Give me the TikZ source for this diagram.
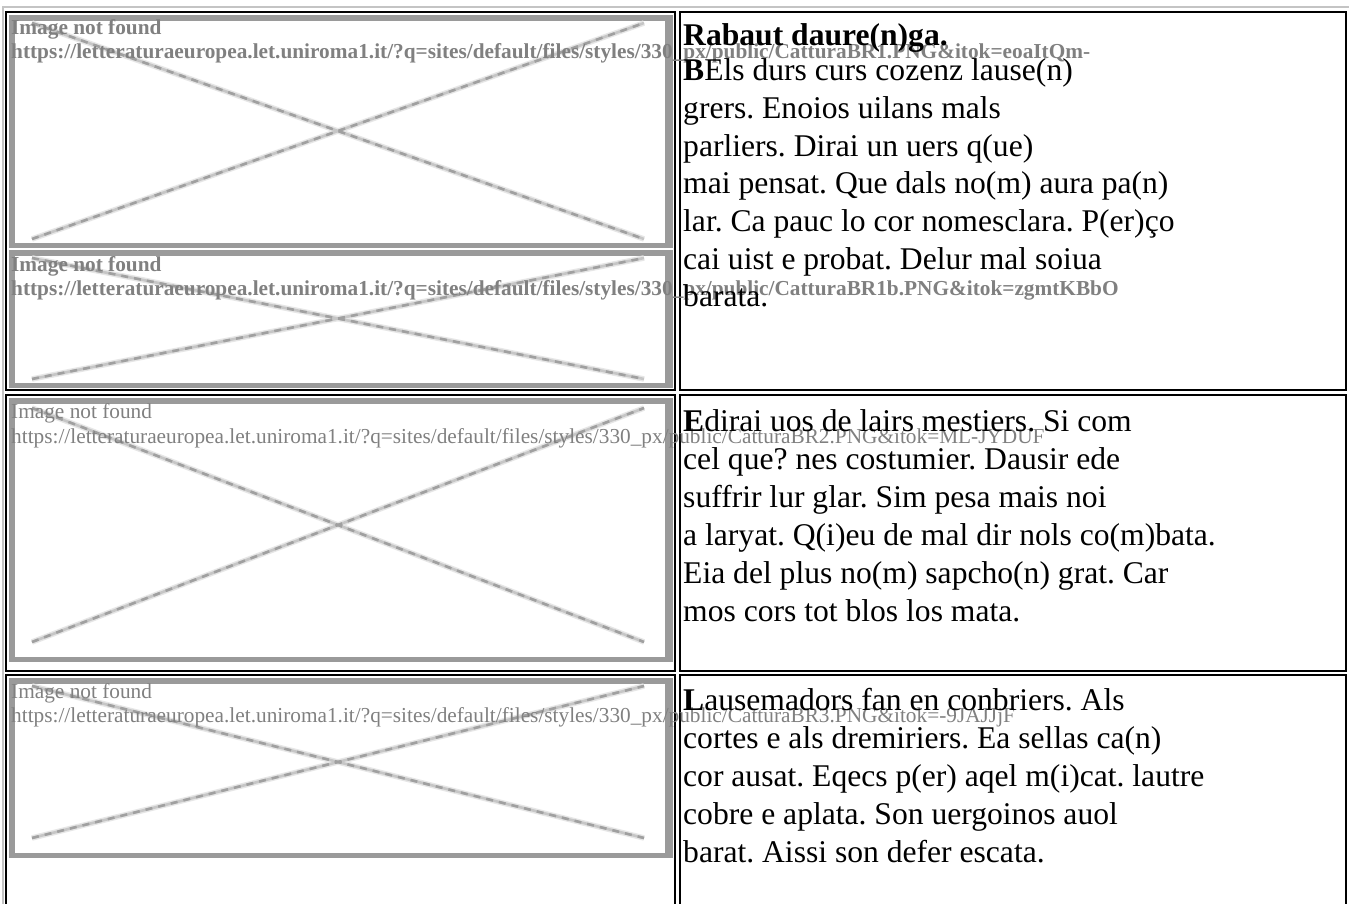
\documentclass[tikz,border=0pt]{standalone}
\usepackage{fontspec}
\setmainfont{Liberation Serif}
\frenchspacing
\definecolor{framegray}{HTML}{9A9A9A}
\definecolor{altgray}{HTML}{808080}
\definecolor{xlight}{HTML}{E6E6E6}
\definecolor{xmid}{HTML}{C6C6C6}
\definecolor{xdark}{HTML}{A0A0A0}
\definecolor{outergray}{HTML}{C4C4C4}
\newcommand\versefont{\fontsize{31.6}{37.6}\selectfont}
\newcommand\altfont{\fontsize{21.3}{24}\selectfont}
% #1 top, #2 bottom, #3 top inset of X, #4 bottom inset of X
\newcommand\brokenimg[4]{%
  \fill[framegray] (9,#1) rectangle (673,#2);
  \fill[white] (15,{#1+6}) rectangle (665,{#2-5});
  \draw[xhalo] (32,{#2-#4}) -- (644,{#1+#3});
  \draw[xhalo] (32,{#1+#3}) -- (644,{#2-#4});
  \draw[xmidline] (32,{#2-#4}) -- (644,{#1+#3});
  \draw[xmidline] (32,{#1+#3}) -- (644,{#2-#4});
  \draw[xcore] (32,{#2-#4}) -- (644,{#1+#3});
  \draw[xcore] (32,{#1+#3}) -- (644,{#2-#4});
}
\tikzset{
  cell/.style={draw=black, line width=2pt},
  xhalo/.style={draw=xlight, line width=5.5pt},
  xmidline/.style={draw=xmid, line width=2.6pt},
  xcore/.style={draw=xdark, line width=2.6pt, dash pattern=on 7pt off 6pt},
  alt/.style={font=\altfont, text=altgray, anchor=base west, inner sep=0pt},
  verse/.style={font=\versefont, text=black, anchor=base west, inner sep=0pt},
}
\begin{document}
\begin{tikzpicture}[x=1pt,y=-1pt]
\useasboundingbox (0,0) rectangle (1349,904);
\fill[white] (0,0) rectangle (1349,904);
% outer table border
\draw[draw=outergray, line width=2pt] (2.5,7.5) rectangle (1360,930);
% cells
\draw[cell] (5.5,12.5) rectangle (674.5,390);
\draw[cell] (679.5,12.5) rectangle (1346,390);
\draw[cell] (5.5,395) rectangle (674.5,670.5);
\draw[cell] (679.5,395) rectangle (1346,670.5);
\draw[cell] (5.5,674.5) rectangle (674.5,930);
\draw[cell] (679.5,674.5) rectangle (1346,930);
% broken images
\brokenimg{15}{248}{8}{9}
\brokenimg{250}{388}{8}{9}
\brokenimg{398}{662}{10}{20}
\brokenimg{678}{858}{8}{20}
% alt texts
\node[alt, font=\altfont\bfseries] (a1) at (11,35) {Image not found};
\node[alt, font=\altfont\bfseries] (u1) at (11,59) {https://letteraturaeuropea.let.uniroma1.it/?q=sites/default/files/styles/330\_px/public/CatturaBR1.PNG\&itok=eoaItQm-};
\node[alt, font=\altfont\bfseries] (a2) at (11,271) {Image not found};
\node[alt, font=\altfont\bfseries] (u2) at (11,295) {https://letteraturaeuropea.let.uniroma1.it/?q=sites/default/files/styles/330\_px/public/CatturaBR1b.PNG\&itok=zgmtKBbO};
\node[alt] (a3) at (11,418) {Image not found};
\node[alt] (u3) at (11,443) {https://letteraturaeuropea.let.uniroma1.it/?q=sites/default/files/styles/330\_px/public/CatturaBR2.PNG\&itok=ML-JYDUF};
\node[alt] (a4) at (11,698) {Image not found};
\node[alt] (u4) at (11,722) {https://letteraturaeuropea.let.uniroma1.it/?q=sites/default/files/styles/330\_px/public/CatturaBR3.PNG\&itok=-9JAJJjF};
% row 1 text
\node[verse] (t10) at (683,46) {\bfseries Rabaut daure(n)ga.};
\node[verse] (t11) at (683,81) {\textbf{B}Els durs curs cozenz lause(n)};
\node[verse] (t12) at (683,118.6) {grers. Enoios uilans mals};
\node[verse] (t13) at (683,156.2) {parliers. Dirai un uers q(ue)};
\node[verse] (t14) at (683,193.8) {mai pensat. Que dals no(m) aura pa(n)};
\node[verse] (t15) at (683,231.4) {lar. Ca pauc lo cor nomesclara. P(er)ço};
\node[verse] (t16) at (683,269) {cai uist e probat. Delur mal soiua};
\node[verse] (t17) at (683,306.6) {barata.};
% row 2 text
\node[verse] (t20) at (683,431) {\textbf{E}dirai uos de lairs mestiers. Si com};
\node[verse] (t21) at (683,469) {cel que? nes costumier. Dausir ede};
\node[verse] (t22) at (683,507) {suffrir lur glar. Sim pesa mais noi};
\node[verse] (t23) at (683,545) {a laryat. Q(i)eu de mal dir nols co(m)bata.};
\node[verse] (t24) at (683,583) {Eia del plus no(m) sapcho(n) grat. Car};
\node[verse] (t25) at (683,621) {mos cors tot blos los mata.};
% row 3 text
\node[verse] (t30) at (683,710) {\textbf{L}ausemadors fan en conbriers. Als};
\node[verse] (t31) at (683,748) {cortes e als dremiriers. Ea sellas ca(n)};
\node[verse] (t32) at (683,786) {cor ausat. Eqecs p(er) aqel m(i)cat. lautre};
\node[verse] (t33) at (683,824) {cobre e aplata. Son uergoinos auol};
\node[verse] (t34) at (683,862) {barat. Aissi son defer escata.};
\end{tikzpicture}
\end{document}
